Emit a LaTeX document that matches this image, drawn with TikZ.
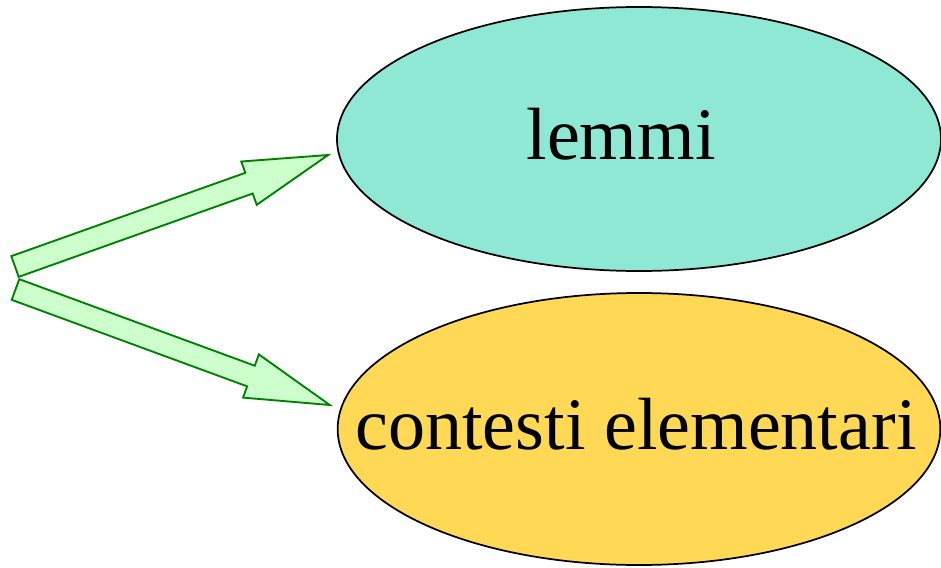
\documentclass[tikz,border=0pt]{standalone}
\usepackage{fontspec}
\setmainfont{Liberation Serif}
\usepackage{tikz}
\usetikzlibrary{shapes,shapes.geometric}
\usetikzlibrary{calc}
\definecolor{acquamarina}{RGB}{142,232,212}
\definecolor{giallo}{RGB}{255,217,85}
\definecolor{verdechiaro}{RGB}{204,255,204}
\definecolor{verdescuro}{RGB}{0,128,0}
\tikzset{
  ovale/.style={ellipse,draw=black,line width=1.3pt,inner sep=0pt},
  testo/.style={font=\fontsize{55.5}{60}\selectfont,inner sep=0pt,text height=40pt,text depth=10pt},
  freccia/.style={draw=verdescuro,fill=verdechiaro,line width=1.4pt,line join=miter}
}
% freccia a blocco da #1 a #2
\newcommand{\freccia}[2]{%
  \coordinate (#1b) at ($(#2)!63pt!(#1)$);
  \draw[freccia] ($(#1)!8.25pt!90:(#2)$) -- ($(#1b)!8.25pt!90:(#2)$)
    -- ($(#1b)!17.25pt!90:(#2)$) -- (#2) -- ($(#1b)!17.25pt!-90:(#2)$)
    -- ($(#1b)!8.25pt!-90:(#2)$) -- ($(#1)!8.25pt!-90:(#2)$) -- cycle;
}

\begin{document}
\begin{tikzpicture}[x=0.75pt,y=-0.75pt]
  \useasboundingbox (0,0) rectangle (941,567);

  \node[ovale,fill=acquamarina,minimum width=453pt,minimum height=198pt] (lemmi) at (639,139) {};
  \node[testo] (lemmiT) at ($(lemmi.center)+(-18,0)$) {lemmi};
  \node[ovale,fill=giallo,minimum width=452pt,minimum height=204pt] (contesti) at (639,429) {};
  \node[testo] (contestiT) at ($(contesti.center)+(-3,0)$) {contesti elementari};

  \coordinate (o1) at (15,266.5);
  \coordinate (p1) at ($(lemmi.west)+(-8,16)$);
  \coordinate (o2) at (15.5,289.5);
  \coordinate (p2) at ($(contesti.west)+(-7,-24)$);
  \freccia{o1}{p1}
  \freccia{o2}{p2}
\end{tikzpicture}
\end{document}
